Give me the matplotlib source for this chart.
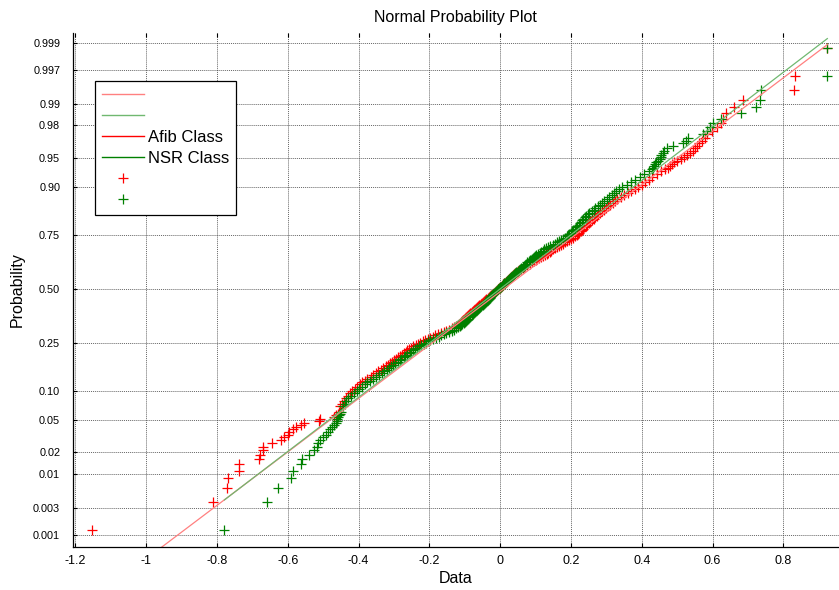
import matplotlib
matplotlib.use('Agg')
import matplotlib.pyplot as plt
from matplotlib.lines import Line2D
import numpy as np
from statistics import NormalDist

plt.rcParams['font.family'] = ['Liberation Sans', 'DejaVu Sans']
plt.rcParams['axes.unicode_minus'] = False

# plotting positions shared by both classes: lower tail, body, upper tail
prob_low = [0.00125, 0.00375, 0.00625, 0.00875, 0.01125, 0.01375, 0.01625, 0.01875,
	0.02125, 0.02375, 0.02625, 0.02875, 0.03125, 0.03375, 0.03625, 0.03875,
	0.04125, 0.04375, 0.04625, 0.04875, 0.05125, 0.05375, 0.05625, 0.05875, 0.06125]
prob_mid = [0.070, 0.075, 0.080, 0.085, 0.090, 0.095, 0.100, 0.105, 0.110, 0.115,
	0.120, 0.125, 0.130, 0.135, 0.140, 0.145, 0.150, 0.155, 0.160, 0.165,
	0.170, 0.175, 0.180, 0.185, 0.190, 0.195, 0.200, 0.205, 0.210, 0.215,
	0.220, 0.225, 0.230, 0.235, 0.240, 0.245, 0.250, 0.255, 0.260, 0.265,
	0.270, 0.275, 0.280, 0.285, 0.290, 0.295, 0.300, 0.305, 0.310, 0.315,
	0.320, 0.325, 0.330, 0.335, 0.340, 0.345, 0.350, 0.355, 0.360, 0.365,
	0.370, 0.375, 0.380, 0.385, 0.390, 0.395, 0.400, 0.405, 0.410, 0.415,
	0.420, 0.425, 0.430, 0.435, 0.440, 0.445, 0.450, 0.455, 0.460, 0.465,
	0.470, 0.475, 0.480, 0.485, 0.490, 0.495, 0.500, 0.505, 0.510, 0.515,
	0.520, 0.525, 0.530, 0.535, 0.540, 0.545, 0.550, 0.555, 0.560, 0.565,
	0.570, 0.575, 0.580, 0.585, 0.590, 0.595, 0.600, 0.605, 0.610, 0.615,
	0.620, 0.625, 0.630, 0.635, 0.640, 0.645, 0.650, 0.655, 0.660, 0.665,
	0.670, 0.675, 0.680, 0.685, 0.690, 0.695, 0.700, 0.705, 0.710, 0.715,
	0.720, 0.725, 0.730, 0.735, 0.740, 0.745, 0.750, 0.755, 0.760, 0.765,
	0.770, 0.775, 0.780, 0.785, 0.790, 0.795, 0.800, 0.805, 0.810, 0.815,
	0.820, 0.825, 0.830, 0.835, 0.840, 0.845, 0.850, 0.855, 0.860, 0.865,
	0.870, 0.875, 0.880, 0.885, 0.890, 0.895, 0.900, 0.905, 0.910, 0.915,
	0.920, 0.925, 0.930]
prob_high = [0.93375, 0.93625, 0.93875, 0.94125, 0.94375, 0.94625, 0.94875, 0.95125,
	0.95375, 0.95625, 0.95875, 0.96125, 0.96375, 0.96625, 0.96875, 0.97125,
	0.97375, 0.97625, 0.97875, 0.98125, 0.98375, 0.98625, 0.98875, 0.99125,
	0.99375, 0.99625, 0.99875]

afib_low = [-1.154, -0.811, -0.773, -0.769, -0.739, -0.738, -0.681, -0.678,
	-0.671, -0.669, -0.646, -0.620, -0.610, -0.600, -0.596, -0.586,
	-0.577, -0.563, -0.553, -0.511, -0.508, -0.469, -0.464, -0.458, -0.456]
afib_mid = [-0.452, -0.446, -0.441, -0.436, -0.430, -0.424, -0.418, -0.411, -0.404, -0.397,
	-0.390, -0.383, -0.375, -0.366, -0.358, -0.351, -0.344, -0.337, -0.331, -0.324,
	-0.318, -0.312, -0.306, -0.300, -0.295, -0.289, -0.284, -0.278, -0.272, -0.267,
	-0.262, -0.257, -0.252, -0.245, -0.239, -0.232, -0.226, -0.219, -0.213, -0.205,
	-0.198, -0.190, -0.183, -0.175, -0.168, -0.160, -0.153, -0.144, -0.136, -0.130,
	-0.124, -0.120, -0.117, -0.113, -0.110, -0.107, -0.104, -0.100, -0.097, -0.094,
	-0.091, -0.088, -0.085, -0.081, -0.078, -0.075, -0.072, -0.068, -0.065, -0.062,
	-0.059, -0.055, -0.052, -0.049, -0.046, -0.042, -0.039, -0.035, -0.032, -0.028,
	-0.025, -0.021, -0.018, -0.015, -0.012, -0.008, -0.005, -0.002, 0.001, 0.004,
	0.007, 0.009, 0.012, 0.015, 0.018, 0.021, 0.024, 0.027, 0.030, 0.032,
	0.035, 0.038, 0.042, 0.046, 0.050, 0.054, 0.058, 0.063, 0.067, 0.071,
	0.077, 0.083, 0.089, 0.095, 0.100, 0.105, 0.109, 0.115, 0.122, 0.126,
	0.131, 0.135, 0.140, 0.144, 0.149, 0.154, 0.160, 0.166, 0.172, 0.178,
	0.184, 0.190, 0.195, 0.201, 0.207, 0.212, 0.216, 0.220, 0.223, 0.227,
	0.231, 0.234, 0.238, 0.242, 0.246, 0.250, 0.254, 0.260, 0.265, 0.269,
	0.273, 0.277, 0.282, 0.288, 0.294, 0.299, 0.305, 0.311, 0.318, 0.324,
	0.331, 0.340, 0.350, 0.360, 0.370, 0.380, 0.390, 0.400, 0.410, 0.420,
	0.430, 0.442, 0.455]
afib_high = [0.465, 0.475, 0.480, 0.485, 0.492, 0.500, 0.510, 0.520,
	0.528, 0.536, 0.544, 0.550, 0.556, 0.562, 0.570, 0.578,
	0.585, 0.597, 0.612, 0.623, 0.630, 0.638, 0.661, 0.687,
	0.829, 0.832, 0.924]

nsr_low = [-0.779, -0.660, -0.627, -0.591, -0.586, -0.563, -0.560, -0.539,
	-0.525, -0.518, -0.516, -0.510, -0.502, -0.492, -0.486, -0.480,
	-0.476, -0.470, -0.465, -0.462, -0.460, -0.457, -0.455, -0.452, -0.450]
nsr_mid = [-0.443, -0.439, -0.435, -0.429, -0.422, -0.414, -0.405, -0.398, -0.390, -0.383,
	-0.375, -0.368, -0.360, -0.351, -0.342, -0.335, -0.328, -0.321, -0.315, -0.308,
	-0.302, -0.296, -0.290, -0.284, -0.279, -0.273, -0.268, -0.262, -0.256, -0.251,
	-0.246, -0.241, -0.236, -0.229, -0.223, -0.216, -0.210, -0.203, -0.197, -0.189,
	-0.182, -0.174, -0.167, -0.159, -0.152, -0.144, -0.137, -0.131, -0.126, -0.120,
	-0.114, -0.110, -0.107, -0.103, -0.100, -0.097, -0.094, -0.090, -0.087, -0.084,
	-0.081, -0.078, -0.075, -0.071, -0.068, -0.065, -0.062, -0.059, -0.056, -0.053,
	-0.050, -0.046, -0.043, -0.040, -0.037, -0.034, -0.031, -0.030, -0.029, -0.026,
	-0.023, -0.020, -0.017, -0.014, -0.011, -0.008, -0.005, -0.002, 0.001, 0.004,
	0.007, 0.009, 0.012, 0.015, 0.018, 0.021, 0.024, 0.027, 0.030, 0.032,
	0.035, 0.038, 0.041, 0.045, 0.049, 0.053, 0.056, 0.060, 0.064, 0.067,
	0.071, 0.073, 0.076, 0.080, 0.084, 0.089, 0.093, 0.095, 0.098, 0.102,
	0.107, 0.111, 0.116, 0.120, 0.125, 0.130, 0.136, 0.142, 0.148, 0.154,
	0.160, 0.165, 0.171, 0.177, 0.183, 0.188, 0.192, 0.195, 0.199, 0.203,
	0.207, 0.210, 0.214, 0.218, 0.222, 0.226, 0.230, 0.232, 0.235, 0.239,
	0.243, 0.247, 0.252, 0.258, 0.264, 0.269, 0.275, 0.281, 0.288, 0.294,
	0.301, 0.308, 0.315, 0.321, 0.328, 0.336, 0.345, 0.357, 0.370, 0.382,
	0.395, 0.407, 0.420]
nsr_high = [0.428, 0.432, 0.434, 0.436, 0.440, 0.445, 0.450, 0.453,
	0.455, 0.460, 0.464, 0.470, 0.487, 0.515, 0.525, 0.530,
	0.572, 0.585, 0.592, 0.600, 0.625, 0.680, 0.722, 0.735,
	0.737, 0.922, 0.924]

# reference lines (mean, sigma)
afib_fit = (0.010, 0.298)
nsr_fit = (0.000, 0.294)

prob_ticks = [0.001, 0.003, 0.01, 0.02, 0.05, 0.10, 0.25, 0.50, 0.75, 0.90, 0.95, 0.98, 0.99, 0.997, 0.999]
prob_labels = ['0.001', '0.003', '0.01', '0.02', '0.05', '0.10', '0.25', '0.50',
	'0.75', '0.90', '0.95', '0.98', '0.99', '0.997', '0.999']
x_ticks = [-1.2, -1.0, -0.8, -0.6, -0.4, -0.2, 0.0, 0.2, 0.4, 0.6, 0.8]
x_labels = ['-1.2', '-1', '-0.8', '-0.6', '-0.4', '-0.2', '0', '0.2', '0.4', '0.6', '0.8']

prob = prob_low + prob_mid + prob_high
afib = afib_low + afib_mid + afib_high
nsr = nsr_low + nsr_mid + nsr_high

_nd = NormalDist()
_ppf = np.vectorize(_nd.inv_cdf, otypes=[float])
_cdf = np.vectorize(_nd.cdf, otypes=[float])

def fwd(p):
	p = np.clip(np.asarray(p, dtype=float), 1e-12, 1 - 1e-12)
	return _ppf(p)

def inv(z):
	return _cdf(np.asarray(z, dtype=float))


fig = plt.figure(figsize=(8.39, 5.9), dpi=100)
ax = fig.add_axes([0.0867, 0.0734, 0.9134, 0.8712])
ax.set_yscale('function', functions=(fwd, inv))

red, green = '#ff0000', '#008000'
red_l, green_l = '#ff8080', '#70b870'

ax.plot(afib, prob, ls='none', marker='+', ms=7, mew=0.9, color=red)
ax.plot(nsr, prob, ls='none', marker='+', ms=7, mew=0.9, color=green)

for data, (mu, sd), c in [(afib, afib_fit, red_l), (nsr, nsr_fit, green_l)]:
	xs = [min(data), max(data)]
	ps = [NormalDist(mu, sd).cdf(v) for v in xs]
	ax.plot(xs, ps, color=c, lw=0.9)

ax.set_xlim(-1.2075, 0.9572)
ax.set_ylim(inv(-3.237), inv(3.217))
ax.set_xticks(x_ticks)
ax.set_xticklabels(x_labels)
ax.set_yticks(prob_ticks)
ax.set_yticklabels(prob_labels)
ax.minorticks_off()

ax.grid(True, color='0.25', linestyle=(0, (1, 1)), linewidth=0.7, alpha=0.8)
ax.set_axisbelow(True)
ax.spines['top'].set_visible(False)
ax.spines['right'].set_visible(False)
for s in ('left', 'bottom'):
	ax.spines[s].set_linewidth(0.9)
ax.tick_params(direction='in', top=True, right=False, length=3, width=0.8)
ax.tick_params(axis='x', labelsize=9, pad=6)
ax.tick_params(axis='y', labelsize=7.8, pad=9)

ax.set_title('Normal Probability Plot', fontsize=11.5, pad=8)
ax.set_xlabel('Data', fontsize=11.5, labelpad=3)
ax.set_ylabel('Probability', fontsize=11.5, labelpad=6)

handles = [
	Line2D([], [], color=red_l, lw=1.0),
	Line2D([], [], color=green_l, lw=1.0),
	Line2D([], [], color=red, lw=1.0),
	Line2D([], [], color=green, lw=1.0),
	Line2D([], [], color=red, ls='none', marker='+', ms=7, mew=0.9),
	Line2D([], [], color=green, ls='none', marker='+', ms=7, mew=0.9),
]
labels = ['', '', 'Afib Class', 'NSR Class', '', '']
leg = ax.legend(handles, labels, loc='upper left', bbox_to_anchor=(0.029, 0.906),
	borderaxespad=0, fontsize=12, handlelength=2.5, handletextpad=0.25,
	labelspacing=0.36, borderpad=0.42, fancybox=False, framealpha=1,
	edgecolor='k', numpoints=1)
leg.get_frame().set_linewidth(0.9)

plt.savefig('out.png', dpi=100)
